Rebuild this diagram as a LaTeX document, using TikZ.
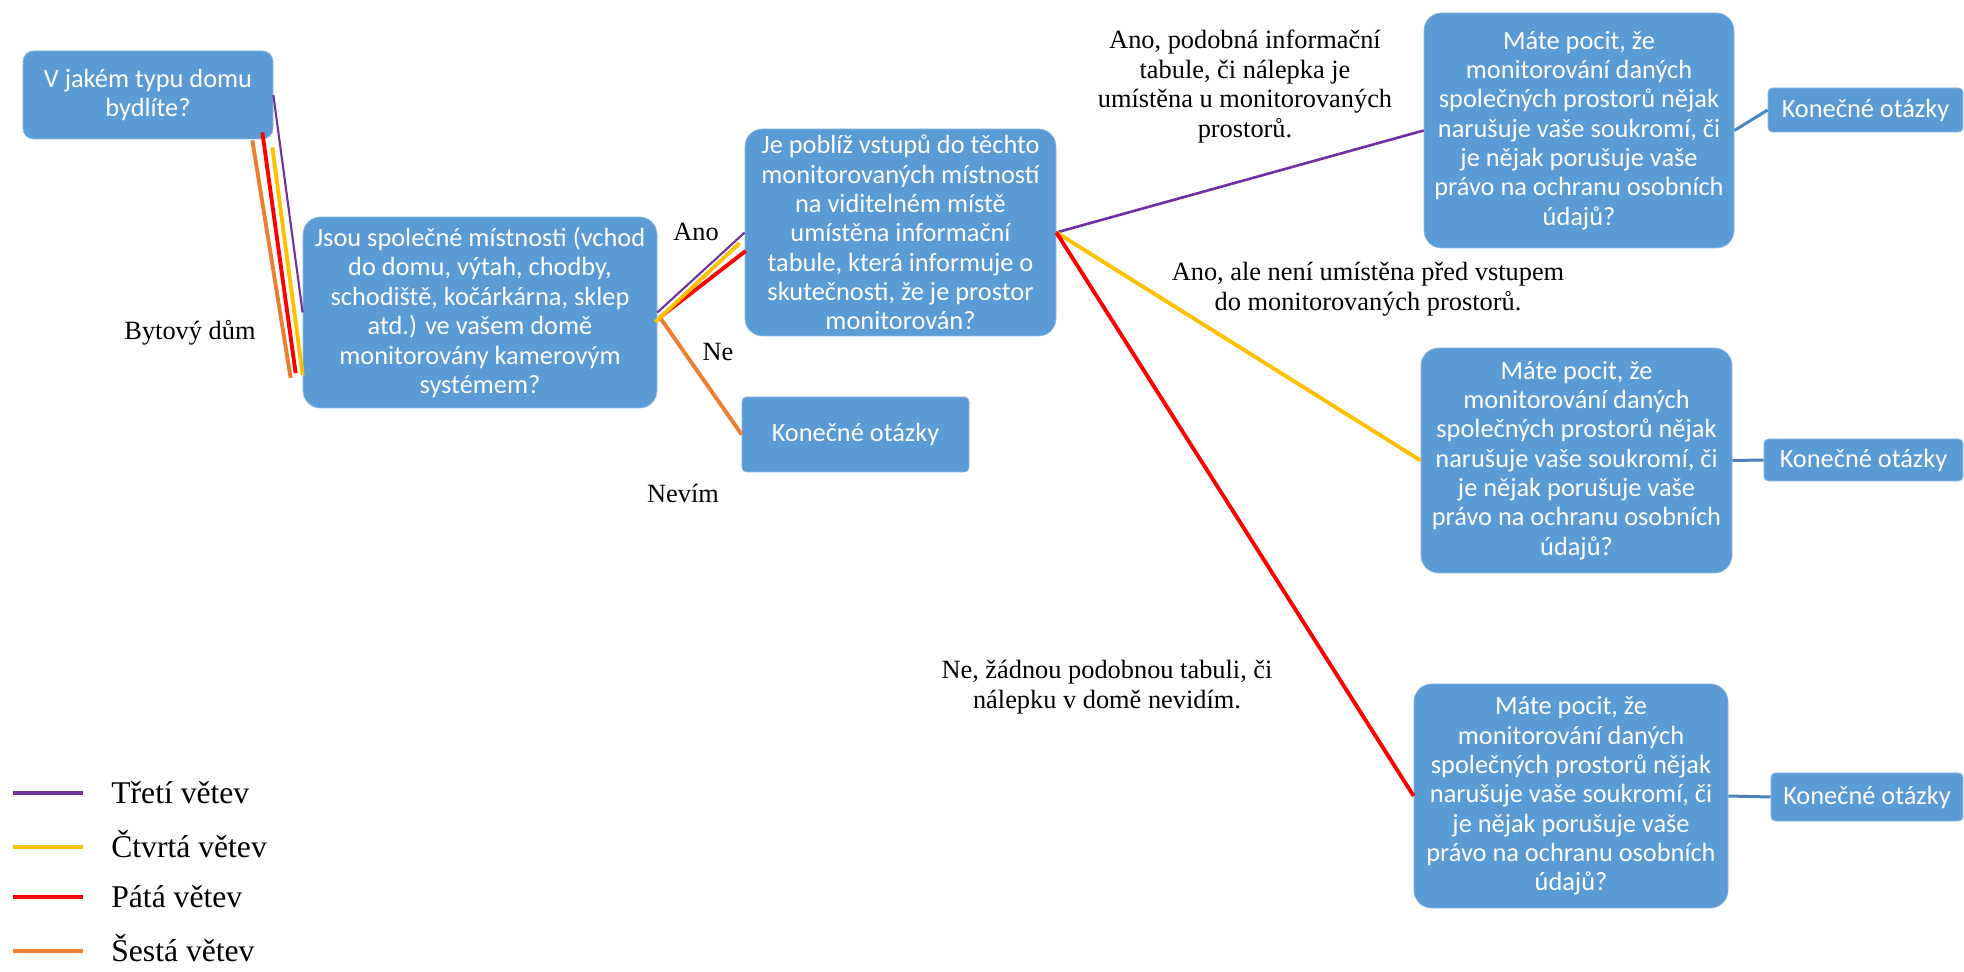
\documentclass[tikz,border=0pt]{standalone}
\usepackage{fontspec}
\setmainfont{Liberation Serif}
\newfontfamily\boxfont{Carlito}
\usepackage{tikz}
\usetikzlibrary{positioning}
\usepackage{xcolor}
\definecolor{BoxBlue}{HTML}{5B9BD5}
\definecolor{LinkBlue}{HTML}{4A84C0}
\definecolor{BranchPurple}{HTML}{7030A0}
\definecolor{BranchGold}{HTML}{FFC000}
\definecolor{BranchRed}{HTML}{FF0000}
\definecolor{BranchOrange}{HTML}{ED7D31}
\tikzset{
    % Box styles
    question/.style={
        rectangle,
        rounded corners=10pt,
        draw=BoxBlue!70!white,
        line width=0.4pt,
        fill=BoxBlue,
        text=white,
        inner sep=1pt,
        align=center,
        font=\boxfont\fontsize{15}{16.7}\selectfont
    },
    finalbox/.style={
        rectangle,
        rounded corners=2.5pt,
        draw=BoxBlue!70!white,
        line width=0.4pt,
        fill=BoxBlue,
        text=white,
        inner sep=1pt,
        align=center,
        font=\boxfont\fontsize{15}{16.7}\selectfont
    },
    answer/.style={
        align=center,
        inner sep=0pt,
        font=\fontsize{15}{17}\selectfont
    },
    % Line styles - straight lines, no tips
    branchthree/.style={
        line width=1.2pt,
        draw=BranchPurple
    },
    branchfour/.style={
        line width=2.2pt,
        draw=BranchGold
    },
    branchfive/.style={
        line width=2.2pt,
        draw=BranchRed
    },
    branchsix/.style={
        line width=2.2pt,
        draw=BranchOrange
    },
    link/.style={
        line width=1.7pt,
        draw=LinkBlue
    }
}
\begin{document}
\begin{tikzpicture}
    \useasboundingbox (0,0) rectangle (39.28,-19.44);

    \node[question, minimum width=5cm, minimum height=1.76cm, rounded corners=6pt] (q1) at (2.96,-1.90) {V jakém typu domu\\bydlíte?};

    \node[question, minimum width=7.08cm, minimum height=3.82cm] (q2) at (9.60,-6.25) {Jsou společné místnosti (vchod\\do domu, výtah, chodby,\\schodiště, kočárkárna, sklep\\atd.) ve vašem domě\\monitorovány kamerovým\\systémem?};

    \node[question, minimum width=6.22cm, minimum height=4.14cm] (q3) at (18.01,-4.65) {Je poblíž vstupů do těchto\\monitorovaných místností\\na viditelném místě\\umístěna informační\\tabule, která informuje o\\skutečnosti, že je prostor\\monitorován?};

    \node[finalbox, minimum width=4.54cm, minimum height=1.5cm] (k0) at (17.11,-8.69) {Konečné otázky};

    \node[question, minimum width=6.2cm, minimum height=4.7cm] (r1) at (31.58,-2.61) {Máte pocit, že\\monitorování daných\\společných prostorů nějak\\narušuje vaše soukromí, či\\je nějak porušuje vaše\\právo na ochranu osobních\\údajů?};

    \node[question, minimum width=6.22cm, minimum height=4.5cm] (r2) at (31.53,-9.21) {Máte pocit, že\\monitorování daných\\společných prostorů nějak\\narušuje vaše soukromí, či\\je nějak porušuje vaše\\právo na ochranu osobních\\údajů?};

    \node[question, minimum width=6.28cm, minimum height=4.48cm] (r3) at (31.42,-15.92) {Máte pocit, že\\monitorování daných\\společných prostorů nějak\\narušuje vaše soukromí, či\\je nějak porušuje vaše\\právo na ochranu osobních\\údajů?};

    \node[finalbox, minimum width=3.9cm, minimum height=0.88cm] (k1) at (37.31,-2.20) {Konečné otázky};
    \node[finalbox, minimum width=3.98cm, minimum height=0.84cm] (k2) at (37.27,-9.20) {Konečné otázky};
    \node[finalbox, minimum width=3.84cm, minimum height=0.96cm] (k3) at (37.34,-15.94) {Konečné otázky};

    % answer labels
    \node[answer] (bytovy) at (3.80,-6.66) {Bytový dům};
    \node[answer] (ano) at (13.92,-4.64) {Ano};
    \node[answer] (ne) at (14.36,-7.04) {Ne};
    \node[answer] (nevim) at (13.66,-9.86) {Nevím};
    \node[answer] (ano1) at (24.90,-1.73) {Ano, podobná informační\\tabule, či nálepka je\\umístěna u monitorovaných\\prostorů.};
    \node[answer] (ano2) at (27.36,-5.78) {Ano, ale není umístěna před vstupem\\do monitorovaných prostorů.};
    \node[answer] (ne3) at (22.14,-13.74) {Ne, žádnou podobnou tabuli, či\\nálepku v domě nevidím.};

    % first question -> second question
    \draw[branchsix] ([xshift=-0.42cm, yshift=-0.02cm]q1.south east) -- ([xshift=-0.24cm, yshift=-1.31cm]q2.west);
    \draw[branchfive] ([xshift=-0.22cm, yshift=0.14cm]q1.south east) -- ([xshift=-0.14cm, yshift=-1.21cm]q2.west);
    \draw[branchfour] ([xshift=-0.02cm, yshift=-0.16cm]q1.south east) -- ([yshift=-1.25cm]q2.west);
    \draw[branchthree] (q1.east) -- (q2.west);

    % second question -> third question
    \draw[branchsix] ([xshift=0.06cm, yshift=-0.11cm]q2.east) -- (k0.west);
    \draw[branchfive] ([xshift=0.06cm, yshift=-0.09cm]q2.east) -- ([xshift=0.02cm, yshift=-0.37cm]q3.west);
    \draw[branchfour] ([xshift=-0.04cm, yshift=-0.19cm]q2.east) -- ([xshift=-0.10cm, yshift=-0.21cm]q3.west);
    \draw[branchthree] (q2.east) -- (q3.west);

    % third question -> last questions
    \draw[branchthree, line width=1.5pt] (q3.east) -- (r1.west);
    \draw[branchfour] (q3.east) -- (r2.west);
    \draw[branchfive] (q3.east) -- (r3.west);

    \draw[link] (r1.east) -- (k1.west);
    \draw[link] (r2.east) -- (k2.west);
    \draw[link] (r3.east) -- (k3.west);

    % legend
    \foreach \i/\y/\col/\txt in {3/-15.86/BranchPurple/Třetí větev, 4/-16.94/BranchGold/Čtvrtá větev, 5/-17.94/BranchRed/Pátá větev, 6/-19.02/BranchOrange/Šestá větev}
    {
        \draw[line width=2.2pt, draw=\col] (0.26,\y) -- (1.66,\y);
        \node[anchor=base west, inner sep=0pt, font=\fontsize{18}{20}\selectfont] (leg\i) at (2.22,\y-0.21) {\txt};
    }
\end{tikzpicture}
\end{document}
